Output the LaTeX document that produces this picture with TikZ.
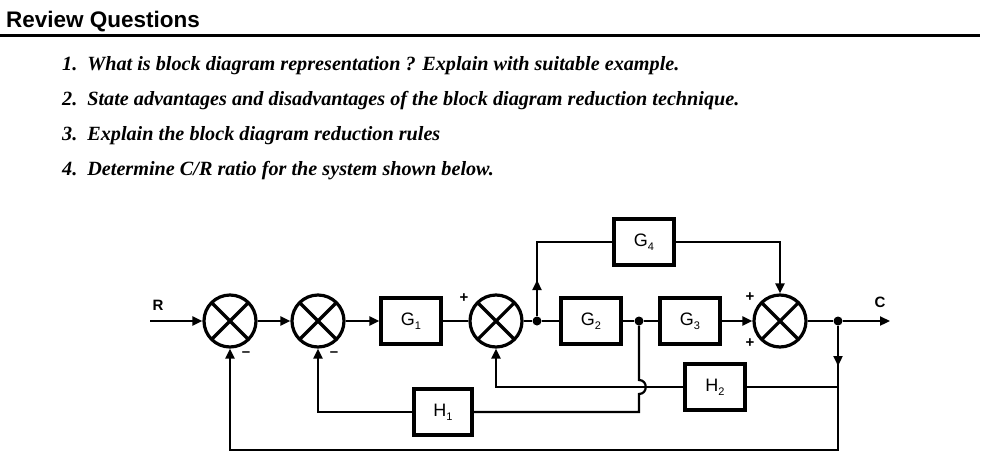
\documentclass[tikz,border=0pt]{standalone}
\usepackage{fontspec}
\setmainfont{Liberation Serif}
\setsansfont{Liberation Sans}
\usetikzlibrary{arrows.meta}
\newcommand{\sbs}[1]{{\fontsize{11}{11}\selectfont\raisebox{-4pt}{#1}}}
\begin{document}
\begin{tikzpicture}[x=1pt,y=-1pt,
  sumj/.style={circle,draw,line width=3.2pt,minimum size=52pt,inner sep=0pt,
    path picture={\draw[line width=3.2pt] (path picture bounding box.north west)--(path picture bounding box.south east)
      (path picture bounding box.north east)--(path picture bounding box.south west);}},
  blk/.style={draw,line width=3.2pt,minimum width=60pt,minimum height=46pt,font=\sffamily\fontsize{18}{18}\selectfont},
  ln/.style={line width=2.2pt},
  arr/.style={ln,-{Triangle[length=10pt,width=9pt]}},
  dotn/.style={circle,fill,inner sep=0pt,minimum size=9pt},
  q/.style={anchor=base west,font=\bfseries\itshape\fontsize{20.2}{20.2}\selectfont},
  sg/.style={font=\sffamily\bfseries\fontsize{15}{15}\selectfont}]
\useasboundingbox (0,0) rectangle (984,458);
\node[anchor=base west,inner sep=0pt,font=\sffamily\bfseries\fontsize{22.5}{22.5}\selectfont] (hd) at (6,27) {Review Questions};
\draw[line width=3pt] (0,35) -- (980,35);
\node[q,inner sep=0pt] (q1) at (62,70) {1.\hspace{10pt}What is block diagram representation ? Explain with suitable example.};
\node[q,inner sep=0pt] (q2) at (62,105) {2.\hspace{10pt}State advantages and disadvantages of the block diagram reduction technique.};
\node[q,inner sep=0pt] (q3) at (62,140) {3.\hspace{10pt}Explain the block diagram reduction rules};
\node[q,inner sep=0pt] (q4) at (62,175) {4.\hspace{10pt}Determine C/R ratio for the system shown below.};
% summers
\node[sumj] (s1) at (230,321) {};
\node[sumj] (s2) at (318,321) {};
\node[sumj] (s3) at (496,321) {};
\node[sumj] (s4) at (780,321) {};
% blocks
\node[blk] (g1) at (411,321) {G\sbs{1}};
\node[blk] (g2) at (591,321) {G\sbs{2}};
\node[blk] (g3) at (690,321) {G\sbs{3}};
\node[blk] (g4) at (644,242) {G\sbs{4}};
\node[blk] (h2) at (715,387) {H\sbs{2}};
\node[blk,minimum width=58pt] (h1) at (443,412) {H\sbs{1}};
\node[dotn] (b1) at (537,321) {};
\node[dotn] (b2) at (639,321) {};
\node[dotn] (b3) at (838,321) {};
\coordinate (rin) at (150,321);
\coordinate (cout) at (890,321);
\node[font=\sffamily\bfseries\fontsize{15}{15}\selectfont] (rl) at (158,305) {R};
\node[font=\sffamily\bfseries\fontsize{15}{15}\selectfont] (cl) at (880,302) {C};
% signs
\node[sg] (m1) at (246,354) {--};
\node[sg] (m2) at (334,354) {--};
\node[sg] (p3) at (464,298) {+};
\node[sg] (p4a) at (750,297) {+};
\node[sg] (p4b) at (750,343) {+};
% forward path
\draw[arr] (rin) -- (s1.west);
\draw[arr] (s1.east) -- (s2.west);
\draw[arr] (s2.east) -- (g1.west);
\draw[ln] (g1.east) -- (s3.west);
\draw[ln] (s3.east) -- (b1) -- (g2.west);
\draw[ln] (g2.east) -- (b2) -- (g3.west);
\draw[arr] (g3.east) -- (s4.west);
\draw[ln] (s4.east) -- (b3);
\draw[arr] (b3) -- (cout);
% G4 branch
\draw[ln] (b1) -- (b1 |- g4.west) -- (g4.west);
\draw[arr] (b1) -- (537,280);
\draw[arr] (g4.east) -- (s4.north |- g4.east) -- (s4.north);
% H2 loop
\draw[arr] (b3) -- (838,366);
\draw[ln] (838,360) -- (838,387) -- (h2.east);
\draw[arr] (h2.west) -- (s3.south |- h2.west) -- (s3.south);
% H1 loop with hop
\draw[ln] (b2) -- (639,380) .. controls (648,380) and (648,394) .. (639,394) -- (639,412) -- (h1.east);
\draw[arr] (h1.west) -- (s2.south |- h1.west) -- (s2.south);
% outer loop
\draw[arr] (838,387) -- (838,450) -- (s1.south |- 0,450) -- (s1.south);
\end{tikzpicture}
\end{document}
